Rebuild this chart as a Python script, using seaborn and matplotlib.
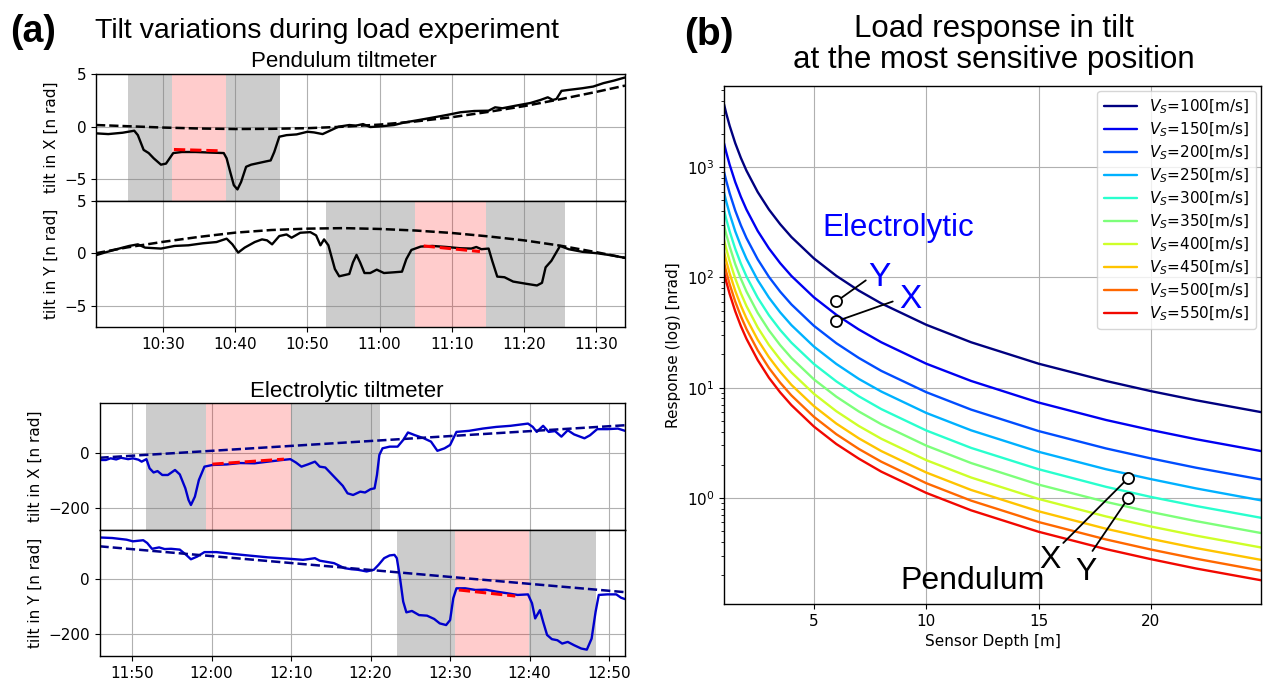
import numpy as np
import matplotlib
matplotlib.use("Agg")
import matplotlib.pyplot as plt
import seaborn as sns
from matplotlib.ticker import MultipleLocator, FuncFormatter

# ---------------- data: (a) tilt records ----------------
# pendulum tiltmeter, time in minutes after 10:00, tilt in n rad
pend_x_min = [20.7, 22.4, 24.4, 26.0, 26.5, 27.3, 28.0, 28.7, 29.7, 30.4, 31.4, 32.6, 34.5, 36.4, 38.4, 38.8,
              39.3, 39.8, 40.3, 40.8, 41.5, 42.2, 43.2, 44.2, 44.9, 45.4, 46.1, 47.1, 48.5, 50.0, 50.9, 52.1,
              53.3, 54.3, 55.8, 56.7, 57.7, 58.7, 60.1, 62.0, 63.5, 65.4, 67.3, 69.3, 71.2, 73.1, 75.1, 76.0,
              77.0, 78.9, 80.9, 82.3, 83.3, 84.0, 84.5, 85.2, 86.2, 88.1, 89.6, 91.0, 92.5, 94.0]
pend_x_val = [-0.63, -0.7, -0.57, -0.38, -0.8, -2.2, -2.5, -3.0, -3.6, -3.5, -2.5, -2.4, -2.4, -2.45, -2.5, -3.0,
              -4.3, -5.55, -5.95, -5.25, -3.8, -3.6, -3.45, -3.3, -3.2, -2.4, -0.95, -0.8, -0.73, -0.48, -0.54, -0.7,
              -0.32, 0.0, 0.16, 0.1, 0.25, -0.03, 0.03, 0.16, 0.41, 0.63, 0.86, 1.11, 1.37, 1.49, 1.52, 1.84,
              1.75, 2.0, 2.25, 2.54, 2.79, 2.54, 2.63, 3.4, 3.49, 3.65, 3.81, 4.13, 4.38, 4.67]
pend_y_min = [20.7, 21.9, 23.9, 25.3, 26.5, 27.5, 29.7, 31.6, 33.5, 35.5, 37.4, 38.8, 39.6, 40.4, 41.3, 42.7,
              43.7, 44.4, 45.1, 46.1, 47.1, 47.8, 49.0, 50.4, 51.2, 51.8, 52.3, 52.9, 53.3, 53.8, 54.4, 55.8,
              56.3, 56.8, 57.3, 57.9, 58.7, 59.6, 60.6, 62.0, 63.1, 63.7, 64.4, 65.7, 67.3, 69.3, 71.2, 72.7,
              73.4, 74.1, 75.1, 75.6, 76.3, 77.3, 78.5, 80.4, 81.8, 82.5, 83.0, 83.8, 85.0, 86.2, 88.1, 90.1,
              92.0, 94.0]
pend_y_val = [-0.19, 0.06, 0.44, 0.69, 0.84, 0.53, 0.44, 0.69, 0.75, 0.94, 1.06, 1.38, 0.84, 0.06, 0.53, 1.06,
              1.31, 1.22, 0.84, 1.63, 1.78, 1.47, 1.94, 2.0, 1.69, 0.75, 1.31, 0.75, -0.25, -1.5, -2.19, -1.97,
              -0.88, -0.16, -0.88, -1.88, -1.88, -1.56, -1.88, -1.81, -1.75, -0.56, 0.31, 0.63, 0.69, 0.59, 0.47, 0.44,
              0.59, 0.38, 0.44, -0.72, -2.22, -2.28, -2.69, -2.91, -3.06, -2.81, -1.34, -0.72, 0.69, 0.38, 0.13, 0.0,
              -0.19, -0.44]
pend_trend_min = [20.7, 25, 30, 35, 40, 45, 50, 55, 60, 65, 70, 75, 80, 85, 90, 94]
pend_x_trend = [0.16, 0.05, -0.08, -0.17, -0.22, -0.2, -0.14, 0.0, 0.2, 0.5, 0.9, 1.4, 1.95, 2.6, 3.3, 3.9]
pend_y_trend = [0.0, 0.55, 1.08, 1.55, 1.95, 2.2, 2.33, 2.38, 2.3, 2.15, 1.92, 1.6, 1.22, 0.72, 0.1, -0.44]
pend_x_fit_min, pend_x_fit = [31.5, 38.0], [-2.16, -2.29]
pend_y_fit_min, pend_y_fit = [66.1, 73.9], [0.69, 0.16]
pend_x_gray, pend_x_pink = [(25.2, 31.2), (38.7, 46.2)], (31.2, 38.7)
pend_y_gray, pend_y_pink = [(52.6, 64.9), (74.7, 85.7)], (64.9, 74.7)

# electrolytic tiltmeter, time in minutes after 11:00
elec_x_min = [45.9, 46.7, 47.3, 48.0, 48.6, 49.5, 50.1, 50.8, 51.2, 51.8, 52.2, 52.7, 53.2, 53.8, 54.5, 55.4,
              56.0, 56.7, 57.1, 57.4, 57.9, 58.4, 59.1, 60.1, 61.9, 63.6, 65.4, 67.1, 68.9, 69.9, 70.6, 71.3,
              72.1, 73.0, 73.6, 74.3, 75.0, 75.8, 76.5, 77.1, 77.8, 78.7, 79.3, 80.0, 80.5, 80.8, 81.1, 81.5,
              82.4, 83.4, 84.1, 84.7, 85.6, 86.7, 87.6, 88.4, 89.3, 90.0, 90.8, 92.4, 94.1, 95.8, 97.6, 99.8,
              100.4, 100.9, 101.7, 102.4, 103.2, 104.0, 104.8, 105.6, 106.9, 107.6, 108.5, 109.8, 111.1, 112.0]
elec_x_val = [-26, -26, -20, -24, -18, -23, -20, -25, -32, -23, -56, -71, -66, -80, -80, -62,
              -78, -128, -170, -188, -158, -98, -50, -44, -42, -37, -38, -32, -26, -23, -35, -50,
              -42, -32, -50, -53, -74, -98, -119, -146, -152, -140, -143, -131, -128, -80, -8, 16,
              22, 22, 46, 73, 63, 52, 40, 7, 16, 28, 75, 79, 87, 93, 97, 105,
              93, 75, 97, 75, 78, 58, 81, 66, 52, 63, 85, 85, 87, 79]
elec_y_min = [45.9, 47.5, 49.3, 50.1, 51.4, 51.9, 52.5, 53.4, 54.1, 54.9, 56.0, 56.8, 57.4, 58.2, 59.1, 60.6,
              62.8, 64.9, 67.1, 69.7, 71.5, 73.0, 73.6, 75.4, 76.7, 77.6, 78.4, 79.5, 80.4, 81.0, 81.7, 82.4,
              83.0, 83.3, 83.7, 84.1, 84.5, 85.2, 86.1, 87.1, 88.0, 88.7, 89.5, 90.0, 90.4, 90.8, 91.9, 93.2,
              94.5, 95.8, 97.2, 98.5, 99.8, 100.3, 100.7, 101.3, 101.7, 102.2, 102.8, 103.5, 104.1, 104.8, 105.6, 106.5,
              107.2, 107.8, 108.3, 108.7, 109.8, 110.9, 111.5, 112.0]
elec_y_val = [151, 149, 143, 137, 141, 131, 110, 115, 109, 110, 107, 88, 72, 82, 98, 98,
              91, 85, 79, 74, 70, 76, 67, 58, 40, 36, 34, 28, 34, 52, 76, 86,
              88, 76, 4, -81, -120, -115, -130, -132, -144, -160, -166, -148, -69, -33, -33, -39,
              -38, -45, -51, -57, -55, -87, -142, -112, -154, -202, -217, -221, -233, -227, -239, -251,
              -255, -215, -118, -57, -55, -55, -67, -72]
elec_trend_min = [45.9, 112.0]
elec_x_trend = [-18, 99]
elec_y_trend = [119, -47]
elec_x_fit_min, elec_x_fit = [60.1, 69.1], [-41, -23]
elec_y_fit_min, elec_y_fit = [91.1, 98.2], [-39, -61]
elec_x_gray, elec_x_pink = [(51.8, 59.3), (70.0, 81.2)], (59.3, 70.0)
elec_y_gray, elec_y_pink = [(83.3, 90.6), (99.9, 108.3)], (90.6, 99.9)

# ---------------- data: (b) load response ----------------
vs_values = [100, 150, 200, 250, 300, 350, 400, 450, 500, 550]
depth_m = [1, 1.1, 1.25, 1.5, 1.75, 2, 2.5, 3, 3.5, 4, 5, 6, 7, 8, 10, 12, 15, 18, 20, 22, 24.9]
resp_100 = [3720, 3074, 2381, 1653, 1215, 930, 595, 413, 304, 232.5, 148.8, 103.3, 75.9, 58.1, 37.2, 25.8, 16.5, 11.5, 9.3, 7.69, 6.0]
resp_150 = [1650, 1364, 1056, 733, 539, 412.5, 264, 183.3, 134.7, 103.1, 66.0, 45.8, 33.7, 25.8, 16.5, 11.5, 7.33, 5.09, 4.13, 3.41, 2.66]
resp_200 = [910, 752, 582, 404, 297, 227.5, 146, 101.1, 74.3, 56.9, 36.4, 25.3, 18.6, 14.2, 9.1, 6.32, 4.04, 2.81, 2.28, 1.88, 1.47]
resp_250 = [590, 488, 378, 262, 193, 147.5, 94.4, 65.6, 48.2, 36.9, 23.6, 16.4, 12.0, 9.22, 5.9, 4.10, 2.62, 1.82, 1.48, 1.22, 0.95]
resp_300 = [409, 338, 262, 182, 133.5, 102, 65.4, 45.4, 33.4, 25.6, 16.4, 11.4, 8.35, 6.39, 4.09, 2.84, 1.82, 1.26, 1.02, 0.845, 0.66]
resp_350 = [298, 246, 191, 132, 97.3, 74.5, 47.7, 33.1, 24.3, 18.6, 11.9, 8.28, 6.08, 4.66, 2.98, 2.07, 1.32, 0.92, 0.745, 0.616, 0.48]
resp_400 = [220, 182, 141, 97.8, 71.8, 55, 35.2, 24.4, 18.0, 13.75, 8.8, 6.11, 4.49, 3.44, 2.2, 1.53, 0.978, 0.679, 0.55, 0.455, 0.355]
resp_450 = [170, 140.5, 109, 75.6, 55.5, 42.5, 27.2, 18.9, 13.9, 10.6, 6.8, 4.72, 3.47, 2.66, 1.7, 1.18, 0.756, 0.525, 0.425, 0.351, 0.274]
resp_500 = [136, 112.4, 87, 60.4, 44.4, 34, 21.8, 15.1, 11.1, 8.5, 5.44, 3.78, 2.78, 2.13, 1.36, 0.944, 0.604, 0.42, 0.34, 0.281, 0.219]
resp_550 = [111, 91.7, 71, 49.3, 36.2, 27.75, 17.8, 12.3, 9.06, 6.94, 4.44, 3.08, 2.27, 1.73, 1.11, 0.771, 0.493, 0.343, 0.278, 0.229, 0.179]
responses = [resp_100, resp_150, resp_200, resp_250, resp_300, resp_350, resp_400, resp_450, resp_500, resp_550]

# sensor positions (depth, response): Y then X for electrolytic, X then Y for pendulum
elec_mark_depth, elec_mark_resp = [6.0, 6.0], [60.5, 40.0]
pend_mark_depth, pend_mark_resp = [19.0, 19.0], [1.52, 1.0]

# ---------------- style ----------------
sns.set_style("ticks", {"axes.grid": True, "grid.color": "#b0b0b0", "axes.edgecolor": "black",
                        "xtick.color": "black", "ytick.color": "black", "text.color": "black",
                        "axes.labelcolor": "black"})
plt.rcParams.update({"grid.linewidth": 0.8, "axes.linewidth": 1.0, "xtick.labelsize": 11,
                     "ytick.labelsize": 11, "axes.labelsize": 11})
TITLE_FONT = "Liberation Sans"

W, H = 1263, 683
fig = plt.figure(figsize=(W / 100, H / 100), dpi=100)


def px_axes(left, top, right, bottom, **kw):
    return fig.add_axes([left / W, 1 - bottom / H, (right - left) / W, (bottom - top) / H], **kw)


def hhmm(v, pos):
    m = int(round(v))
    return f"{m // 60}:{m % 60:02d}"


def tilt_panel(ax, base, t, v, tr_t, tr_v, fit_t, fit_v, gray, pink, color, trend_color, ylabel):
    for a, b in gray:
        ax.axvspan(base + a, base + b, color="gray", alpha=0.4, lw=0)
    ax.axvspan(base + pink[0], base + pink[1], color="red", alpha=0.2, lw=0)
    sns.lineplot(x=base + np.array(t), y=v, color=color, lw=1.7, ax=ax)
    sns.lineplot(x=base + np.array(tr_t), y=tr_v, color=trend_color, lw=1.8, ls="--", ax=ax)
    sns.lineplot(x=base + np.array(fit_t), y=fit_v, color="red", lw=2.2, ls="--", ax=ax)
    ax.set_ylabel(ylabel)
    ax.xaxis.set_major_locator(MultipleLocator(10))
    ax.xaxis.set_major_formatter(FuncFormatter(hhmm))


# pendulum
ax_px = px_axes(96, 74, 625, 200.5)
ax_py = px_axes(96, 200.5, 625, 327, sharex=ax_px)
tilt_panel(ax_px, 600, pend_x_min, pend_x_val, pend_trend_min, pend_x_trend, pend_x_fit_min, pend_x_fit,
           pend_x_gray, pend_x_pink, "black", "black", "tilt in X [n rad]")
tilt_panel(ax_py, 600, pend_y_min, pend_y_val, pend_trend_min, pend_y_trend, pend_y_fit_min, pend_y_fit,
           pend_y_gray, pend_y_pink, "black", "black", "tilt in Y [n rad]")
for ax in (ax_px, ax_py):
    ax.set_ylim(-7, 5)
    ax.yaxis.set_major_locator(MultipleLocator(5))
ax_px.set_xlim(620.7, 694.0)
ax_px.tick_params(labelbottom=False)

# electrolytic
ax_ex = px_axes(99.5, 403.3, 625, 530)
ax_ey = px_axes(99.5, 530, 625, 656, sharex=ax_ex)
tilt_panel(ax_ex, 660, elec_x_min, elec_x_val, elec_trend_min, elec_x_trend, elec_x_fit_min, elec_x_fit,
           elec_x_gray, elec_x_pink, "mediumblue", "darkblue", "tilt in X [n rad]")
tilt_panel(ax_ey, 660, elec_y_min, elec_y_val, elec_trend_min, elec_y_trend, elec_y_fit_min, elec_y_fit,
           elec_y_gray, elec_y_pink, "mediumblue", "darkblue", "tilt in Y [n rad]")
for ax in (ax_ex, ax_ey):
    ax.set_ylim(-278, 178)
    ax.yaxis.set_major_locator(MultipleLocator(200))
ax_ex.set_xlim(705.9, 772.0)
ax_ex.tick_params(labelbottom=False)

# ---------------- (b) ----------------
ax_b = px_axes(724, 86, 1261, 604)
colors = plt.cm.jet(np.arange(len(vs_values)) / len(vs_values))
for vs, resp, col in zip(vs_values, responses, colors):
    sns.lineplot(x=depth_m, y=resp, color=col, lw=1.7, label=f"$V_S$={vs}[m/s]", ax=ax_b)
ax_b.set_yscale("log")
ax_b.set_xlim(1, 24.9)
ax_b.set_ylim(0.109, 5450)
ax_b.xaxis.set_major_locator(MultipleLocator(5))
ax_b.set_xlabel("Sensor Depth [m]")
ax_b.set_ylabel("Response (log) [nrad]")
ax_b.grid(True, which="major")
ax_b.legend(loc="upper right", fontsize=11, labelspacing=0.3, borderaxespad=0.35, handlelength=2.2)

# connector lines and markers
ax_b.plot([elec_mark_depth[0], 7.31], [elec_mark_resp[0], 94], color="black", lw=1.3)
ax_b.plot([elec_mark_depth[1], 8.51], [elec_mark_resp[1], 60.5], color="black", lw=1.3)
ax_b.plot([pend_mark_depth[0], 16.1], [pend_mark_resp[0], 0.39], color="black", lw=1.3)
ax_b.plot([pend_mark_depth[1], 17.4], [pend_mark_resp[1], 0.33], color="black", lw=1.3)
ax_b.plot(elec_mark_depth + pend_mark_depth, elec_mark_resp + pend_mark_resp, "o", ms=8,
          mfc="white", mec="black", mew=1.3, zorder=5)

ax_b.text(5.4, 236, "Electrolytic", color="#0000ff", fontsize=22.5, family=TITLE_FONT)
ax_b.text(7.44, 83, "Y", color="#0000ff", fontsize=24, family=TITLE_FONT)
ax_b.text(8.78, 53, "X", color="#0000ff", fontsize=24, family=TITLE_FONT)
ax_b.text(8.87, 0.149, "Pendulum", color="black", fontsize=23, family=TITLE_FONT)
ax_b.text(15.04, 0.231, "X", color="black", fontsize=23, family=TITLE_FONT)
ax_b.text(16.64, 0.18, "Y", color="black", fontsize=23, family=TITLE_FONT)

# ---------------- titles ----------------
fig.text(10 / W, 1 - 42 / H, "(a)", fontsize=27, fontweight="bold", family=TITLE_FONT, va="baseline")
fig.text(95 / W, 1 - 38 / H, "Tilt variations during load experiment", fontsize=20.5, family=TITLE_FONT,
         va="baseline")
fig.text(344 / W, 1 - 67 / H, "Pendulum tiltmeter", fontsize=16, family=TITLE_FONT, ha="center", va="baseline")
fig.text(347 / W, 1 - 397 / H, "Electrolytic tiltmeter", fontsize=16, family=TITLE_FONT, ha="center",
         va="baseline")
fig.text(684 / W, 1 - 45 / H, "(b)", fontsize=28, fontweight="bold", family=TITLE_FONT, va="baseline")
fig.text(994 / W, 1 - 37 / H, "Load response in tilt", fontsize=22.5, family=TITLE_FONT, ha="center",
         va="baseline")
fig.text(994 / W, 1 - 68 / H, "at the most sensitive position", fontsize=22.5, family=TITLE_FONT,
         ha="center", va="baseline")

fig.savefig("out.png", dpi=100)
